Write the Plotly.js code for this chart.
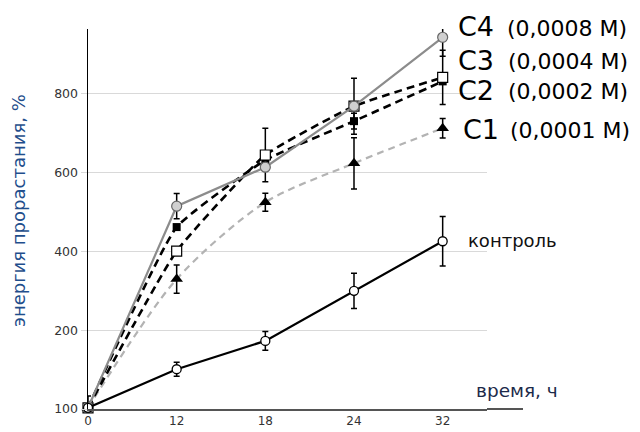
<!DOCTYPE html>
<html>
<head>
<meta charset="utf-8">
<script src="https://cdn.plot.ly/plotly-3.0.1.min.js"></script>
<style>html,body{margin:0;padding:0;background:#fff;}#chart{width:640px;height:432px;}</style>
</head>
<body>
<div id="chart"></div>
<script>
// time points (hours), categorical
const hours = ['0', '12', '18', '24', '32'];
// values on the axis scale (axis bottom is labelled 100)
const control = [3, 101, 173, 300, 426];
const controlErr = [8, 18, 24, 45, 63];
const c4 = [3, 515, 614, 769, 944];
const c4Err = [0, 32, 0, 71, 48];
const c3 = [3, 401, 645, 769, 842];
const c3Err = [30, 0, 68, 0, 69];
const c2 = [3, 462, 632, 731, 832];
const c2Err = [0, 0, 0, 20, 0];
const c1 = [3, 330, 525, 624, 713];
const c1Err = [0, 36, 23, 65, 25];
const yTickVals = [0, 200, 400, 600, 800];
const yTickText = ['100', '200', '400', '600', '800'];
const seriesLabels = [
  ['C4', '(0,0008 M)'],
  ['C3', '(0,0004 M)'],
  ['C2', '(0,0002 M)'],
  ['C1', '(0,0001 M)']
];

const L = 88, R = 487, T = 29, B = 409;
const W = 640, H = 432;
const px = x => (x - L) / (R - L);
const py = y => (B - y) / (B - T);

function err(a) {
  return {type: 'data', array: a, visible: true, color: '#000', thickness: 1.5, width: 3};
}

const traces = [
  {x: hours, y: c1, error_y: err(c1Err), mode: 'lines+markers', type: 'scatter',
   line: {color: '#b3b3b3', width: 2.2, dash: '7px,5px', shape: 'spline', smoothing: 0.8},
   marker: {symbol: 'triangle-up', size: 11, color: '#000'}},
  {x: hours, y: c2, error_y: err(c2Err), mode: 'lines+markers', type: 'scatter',
   line: {color: '#000', width: 2.6, dash: '8px,5px', shape: 'spline', smoothing: 0.4},
   marker: {symbol: 'square', size: 8, color: '#000'}},
  {x: hours, y: c3, error_y: err(c3Err), mode: 'lines+markers', type: 'scatter',
   line: {color: '#000', width: 2.6, dash: '8px,5px', shape: 'spline', smoothing: 0.4},
   marker: {symbol: 'square', size: 10, color: '#fff', line: {color: '#000', width: 1.2}}},
  {x: hours, y: c4, error_y: err(c4Err), mode: 'lines+markers', type: 'scatter',
   line: {color: '#8c8c8c', width: 2.2},
   marker: {symbol: 'circle', size: 10, color: '#d0d0d0', line: {color: '#666', width: 1.2}}},
  {x: hours, y: control, error_y: err(controlErr), mode: 'lines+markers', type: 'scatter',
   line: {color: '#000', width: 2.2},
   marker: {symbol: 'circle', size: 9, color: '#fff', line: {color: '#000', width: 1.3}}}
];

const fontFam = 'DejaVu Sans, Arial, sans-serif';
const annotations = [];
const labelY = [27, 60, 91, 129];
const labelX1 = [457, 457, 457, 462];
const labelX2 = [506, 507, 507, 509];
seriesLabels.forEach((s, i) => {
  annotations.push({xref: 'paper', yref: 'paper', x: px(labelX1[i]), y: py(labelY[i]), xanchor: 'left', yanchor: 'middle',
    text: s[0], showarrow: false, font: {family: fontFam, size: 27, color: '#000'}, borderpad: 0});
  annotations.push({xref: 'paper', yref: 'paper', x: px(labelX2[i]), y: py(labelY[i] + 1), xanchor: 'left', yanchor: 'middle',
    text: s[1], showarrow: false, font: {family: fontFam, size: 22, color: '#000'}, borderpad: 0});
});
annotations.push({xref: 'paper', yref: 'paper', x: px(467), y: py(241), xanchor: 'left', yanchor: 'middle',
  text: 'контроль', showarrow: false, font: {family: fontFam, size: 18, color: '#111'}, borderpad: 0});
annotations.push({xref: 'paper', yref: 'paper', x: px(475), y: py(390), xanchor: 'left', yanchor: 'middle',
  text: 'время, ч', showarrow: false, font: {family: fontFam, size: 18.5, color: '#1c2a4a'}, borderpad: 0});
annotations.push({xref: 'paper', yref: 'paper', x: px(18), y: py(211), xanchor: 'center', yanchor: 'middle',
  textangle: -90, text: 'энергия прорастания, %', showarrow: false,
  font: {family: fontFam, size: 18, color: '#1f4e8c'}, borderpad: 0});

const layout = {
  width: W, height: H,
  margin: {l: L, r: W - R, t: T, b: H - B, pad: 0},
  paper_bgcolor: '#fff', plot_bgcolor: '#fff',
  showlegend: false,
  font: {family: fontFam, size: 12, color: '#404040'},
  xaxis: {type: 'category', range: [0, 4.5], showgrid: false, zeroline: false,
    showline: true, linecolor: '#555', linewidth: 2, ticks: '', ticklen: 0,
    tickfont: {family: fontFam, size: 12, color: '#333'}, fixedrange: true},
  yaxis: {range: [0, 965], tickvals: yTickVals, ticktext: yTickText,
    showgrid: true, gridcolor: '#d9d9d9', gridwidth: 1, zeroline: false,
    showline: true, linecolor: '#000', linewidth: 1.5,
    ticks: 'outside', ticklen: 6, tickcolor: '#d9d9d9', tickwidth: 1,
    tickfont: {family: fontFam, size: 12.5, color: '#333'}, fixedrange: true},
  shapes: [
    {type: 'line', xref: 'paper', yref: 'paper', x0: 1, x1: px(523), y0: 0, y1: 0,
     line: {color: '#555', width: 2}}
  ],
  annotations: annotations
};

traces.forEach(t => { t.cliponaxis = false; t.hoverinfo = 'skip'; });
Plotly.newPlot('chart', traces, layout, {staticPlot: true, displayModeBar: false});
</script>
</body>
</html>
